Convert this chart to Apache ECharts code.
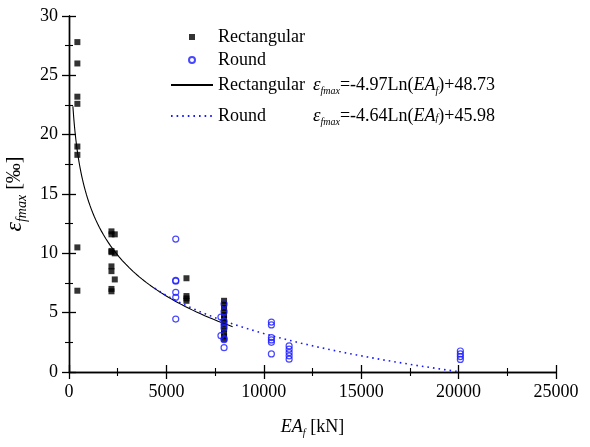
<!DOCTYPE html>
<html><head><meta charset="utf-8">
<script src="https://cdn.jsdelivr.net/npm/echarts@6/dist/echarts.min.js"></script>
<style>html,body{margin:0;padding:0;background:#fff}#c{width:590px;height:447px}</style>
</head><body><div id="c"></div>
<script>
// Rectangular specimens: EA_f [kN] and strain [‰]
const rectEA = [430,430,430,430,430,430,430,430,
  2180,2180,2180,2180,2180,2180,2180,2180,
  2350,2350,2350,
  6030,6030,6030,6030,
  7960,7960,7960,7960,7960,7960,7960,7960,7960,7960,7960,7960];
const rectStrain = [27.8,26.0,23.2,22.6,19.0,18.3,10.5,6.85,
  11.85,11.6,10.2,10.1,8.9,8.5,7.0,6.8,
  11.6,10.0,7.8,
  7.9,6.4,6.2,6.0,
  6.0,5.7,5.4,5.1,4.8,4.5,4.2,3.9,3.6,3.3,3.0,2.8];
// Round specimens
const roundEA = [5480,5480,5480,5480,5480,5480,
  7960,7960,7800,7960,7960,7960,7800,7960,7960,7960,
  10390,10390,10390,10390,10390,10390,
  11300,11300,11300,11300,11300,
  20090,20090,20090,20090];
const roundStrain = [11.2,7.72,7.65,6.71,6.29,4.46,
  5.73,5.08,4.63,4.26,3.98,3.7,3.06,2.81,2.72,2.05,
  4.21,3.97,2.9,2.7,2.5,1.52,
  2.2,1.92,1.64,1.36,1.08,
  1.77,1.52,1.3,1.06];
// Fit curves: strain = a*ln(EA) + b over [from, to]
const rectFitCoef = [-4.97, 48.73];
const rectFitRange = [200, 8400];
const roundFitCoef = [-4.64, 45.98];
const roundFitRange = [4400, 20000];
const xTicks = [0, 5000, 10000, 15000, 20000, 25000];
const yTicks = [0, 5, 10, 15, 20, 25, 30];

function zip(a, b) { return a.map((v, i) => [v, b[i]]); }
function fitCurve(coef, range) {
  const pts = [];
  const n = 120;
  const l0 = Math.log(range[0]), l1 = Math.log(range[1]);
  for (let i = 0; i <= n; i++) {
    const x = Math.exp(l0 + (l1 - l0) * i / n);
    pts.push([x, coef[0] * Math.log(x) + coef[1]]);
  }
  return pts;
}

const FONT = "'Liberation Serif','Times New Roman',serif";
const BLUE = '#1a1aff';
const rich = {
  n: {fontFamily: FONT, fontSize: 18, color: '#000', lineHeight: 18},
  nw: {fontFamily: FONT, fontSize: 18, color: '#000', lineHeight: 18, width: 95},
  e: {fontFamily: FONT, fontSize: 19, fontStyle: 'italic', color: '#000', lineHeight: 18},
  s: {fontFamily: FONT, fontSize: 10, fontStyle: 'italic', color: '#000', lineHeight: 10, padding: [12, 0, 0, 0]},
  s4: {fontFamily: FONT, fontSize: 10, fontStyle: 'italic', color: '#000', lineHeight: 10, padding: [12, 0, 8, 0]},
  t: {fontFamily: FONT, fontSize: 18, color: '#000', lineHeight: 18},
  i: {fontFamily: FONT, fontSize: 18, fontStyle: 'italic', color: '#000', lineHeight: 18}
};
const yRich = {
  e: {fontFamily: FONT, fontSize: 24, fontStyle: 'italic', color: '#000', lineHeight: 22},
  s: {fontFamily: FONT, fontSize: 14, fontStyle: 'italic', color: '#000', lineHeight: 14, padding: [14, 0, 0, 0]},
  t: {fontFamily: FONT, fontSize: 20, color: '#000', lineHeight: 22}
};
const legendText = {
  'Rectangular': '{n|Rectangular}',
  'Round': '{n|Round}',
  'Rectangular fit': '{nw|Rectangular }{e|ε}{s|fmax}{t|=-4.97Ln(}{i|EA}{s|f}{t|)+48.73}',
  'Round fit': '{nw|Round}{e|ε}{s|fmax}{t|=-4.64Ln(}{i|EA}{s4|f}{t|)+45.98}'
};

const axisCommon = {
  axisLine: {lineStyle: {color: '#000', width: 1.4}},
  axisTick: {show: true, inside: false, length: 7, lineStyle: {color: '#000', width: 1.3}},
  minorTick: {show: true, splitNumber: 2, length: 4, lineStyle: {color: '#000', width: 1.1}},
  splitLine: {show: false}
};
const labelStyle = {fontFamily: FONT, fontSize: 18, color: '#000', formatter: v => String(v)};
const hiddenSymbol = {color: 'rgba(0,0,0,0)', borderColor: 'rgba(0,0,0,0)', borderWidth: 0};

const chart = echarts.init(document.getElementById('c'), null, {renderer: 'canvas'});
chart.setOption({
  animation: false,
  backgroundColor: '#fff',
  grid: {left: 69, right: 34, top: 16, bottom: 75, containLabel: false, outerBoundsMode: 'none'},
  legend: {
    orient: 'vertical', left: 170, top: 28, padding: 0,
    itemWidth: 42, itemHeight: 6, itemGap: 5,
    data: [
      {name: 'Rectangular', icon: 'path://M0,0L1,0L1,1L0,1Z'},
      {name: 'Round'},
      {name: 'Rectangular fit', itemStyle: hiddenSymbol},
      {name: 'Round fit', itemStyle: hiddenSymbol}
    ],
    formatter: name => legendText[name],
    textStyle: {rich: rich, fontFamily: FONT, fontSize: 18, color: '#000'}
  },
  xAxis: [
    Object.assign({
      type: 'value', min: xTicks[0], max: xTicks[xTicks.length - 1], interval: 5000,
      position: 'bottom',
      axisLabel: Object.assign({margin: 11}, labelStyle),
      name: '{i|EA}{s|f}{t| [kN]}', nameLocation: 'middle', nameGap: 46,
      nameTextStyle: {rich: rich}
    }, axisCommon),
    Object.assign({
      type: 'value', min: xTicks[0], max: xTicks[xTicks.length - 1], interval: 5000,
      position: 'top', axisLabel: {show: false}
    }, axisCommon)
  ],
  yAxis: [
    Object.assign({
      type: 'value', min: yTicks[0], max: yTicks[yTicks.length - 1], interval: 5,
      position: 'left',
      axisLabel: Object.assign({margin: 11}, labelStyle),
      name: '{e|ε}{s|fmax}{t| [‰]}', nameLocation: 'middle', nameGap: 34,
      nameTextStyle: {rich: yRich}
    }, axisCommon),
    Object.assign({
      type: 'value', min: yTicks[0], max: yTicks[yTicks.length - 1], interval: 5,
      position: 'right', axisLabel: {show: false}
    }, axisCommon)
  ],
  series: [
    {
      name: 'Rectangular', type: 'scatter', data: zip(rectEA, rectStrain),
      symbol: 'rect', symbolSize: 6, itemStyle: {color: '#000'}, z: 3
    },
    {
      name: 'Round', type: 'scatter', data: zip(roundEA, roundStrain),
      symbol: 'circle', symbolSize: 6,
      itemStyle: {color: 'rgba(0,0,0,0)', borderColor: BLUE, borderWidth: 1.2}, z: 4
    },
    {
      name: 'Rectangular fit', type: 'line', data: fitCurve(rectFitCoef, rectFitRange),
      showSymbol: false, symbol: 'none', lineStyle: {color: '#000', width: 1.1}, itemStyle: {color: '#000'}, z: 2
    },
    {
      name: 'Round fit', type: 'line', data: fitCurve(roundFitCoef, roundFitRange),
      showSymbol: false, symbol: 'none',
      lineStyle: {color: BLUE, width: 1.6, type: [1.6, 4]}, itemStyle: {color: BLUE}, z: 2
    }
  ]
});
</script></body></html>
